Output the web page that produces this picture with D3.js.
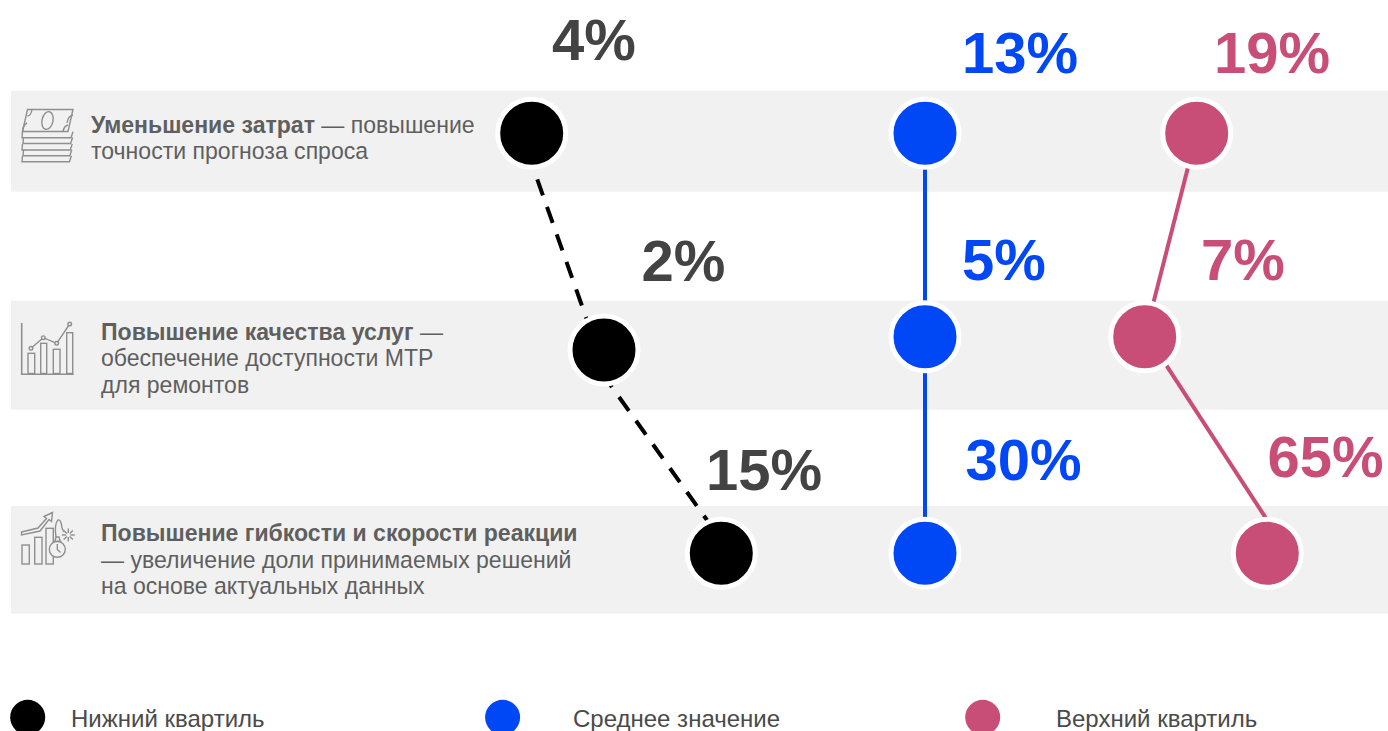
<!DOCTYPE html>
<html>
<head>
    <meta charset="utf-8">
    <title>quartiles</title>
    <script src="https://d3js.org/d3.v7.min.js"></script>
    <style>
        html, body { margin: 0; padding: 0; background: #fff; overflow: hidden; }
        text { font-family: "Liberation Sans", Arial, sans-serif; }
    </style>
</head>
<body>
<svg width="1388" height="731"></svg>
<script>
    // значения
    var lowerLabels = ["4%", "2%", "15%"],
        meanLabels = ["13%", "5%", "30%"],
        upperLabels = ["19%", "7%", "65%"];

    // the picture does not place dots by value, each row has its own spread,
    // so these are read off it as distance from the mean column
    var lowerPos = [-39.33, -32.1, -20.37],
        meanPos = [0, 0, 0],
        upperPos = [27.17, 21.97, 34.23];

    // row level of each dot, the middle row is not quite level in the source
    var lowerRow = [0, 1.032, 2],
        meanRow = [0, 0.969, 2],
        upperRow = [0, 0.969, 2];

    // connector ends differ a bit from the dot centres [from, to] for each gap
    var lowerLinkShift = [[-1.07, -0.64], [-1.85, 0.94]],
        meanLinkShift = [[0, 0], [0, 0]],
        upperLinkShift = [[0, 0], [0.31, 2.15]];

    var legendNames = ["Нижний квартиль", "Среднее значение", "Верхний квартиль"];

    var rowTexts = [
        [["Уменьшение затрат", " — повышение"], ["", "точности прогноза спроса"]],
        [["Повышение качества услуг", " —"], ["", "обеспечение доступности МТР"], ["", "для ремонтов"]],
        [["Повышение гибкости и скорости реакции", ""], ["", "— увеличение доли принимаемых решений"], ["", "на основе актуальных данных"]]
    ];

    var svg = d3.select("svg");

    var x = d3.scaleLinear().domain([-40, 40]).range([525, 1325]),
        y = d3.scaleLinear().domain([0, 2]).range([133.3, 553.3]);

    var series = [
        { pos: lowerPos, row: lowerRow, shift: lowerLinkShift, labels: lowerLabels, color: "#000000", text: "#434343", dash: "17 12.2",
          labelX: [552, 641.5, 706], labelY: [60, 280.5, 489.5], offsets: [-19.6, -28.5] },
        { pos: meanPos, row: meanRow, shift: meanLinkShift, labels: meanLabels, color: "#0047f6", text: "#0047f6", dash: null,
          labelX: [962, 962, 965.5], labelY: [73, 280, 479.5], offsets: [0, 0] },
        { pos: upperPos, row: upperRow, shift: upperLinkShift, labels: upperLabels, color: "#c84e78", text: "#c84e78", dash: null,
          labelX: [1214, 1201, 1267.5], labelY: [73, 279.5, 476.5], offsets: [0, 0] }
    ];

    // gray bands
    var bands = [[90.7, 191.7], [300.7, 409.7], [506, 613.7]];
    svg.selectAll("rect.band").data(bands).enter().append("rect")
        .attr("class", "band")
        .attr("x", 11)
        .attr("y", function (d) { return d[0]; })
        .attr("width", 1377)
        .attr("height", function (d) { return d[1] - d[0]; })
        .attr("fill", "#f1f1f1");

    // icons
    var icons = svg.append("g")
        .attr("fill", "none")
        .attr("stroke", "#8f8f8f")
        .attr("stroke-width", 1.4);

    // money stack
    icons.append("path").attr("d", "M27.5 109.5H73L68 131.5H22.5Z");
    icons.append("ellipse")
        .attr("cx", 47.5).attr("cy", 120.5).attr("rx", 5.5).attr("ry", 9)
        .attr("transform", "rotate(12 47.5 120.5)");
    icons.append("path").attr("d", "M27.5 116Q31 115.5 32 109.5M22.5 131.5Q23 125 27 123M73 115Q68 116 67 123M68 125Q64 126 63 131.5");
    [137.7, 143.5, 150, 155.7, 161.7].forEach(function (ly, i) {
        icons.append("path").attr("d", "M" + (22.5 + (i % 2)) + " " + (ly - 6) + "L" + (22 + (i % 2)) + " " + ly + "H" + (71 - i * 0.4) + "L" + (73 - i * 0.4) + " " + (ly - 6));
    });

    // chart icon
    icons.append("path").attr("stroke-width", 1.6).attr("d", "M21.7 323V374.3H73.7");
    [[28, 353.3, 6.7], [40.7, 343.3, 6], [53.3, 349.3, 6.7], [66.7, 332.7, 6]].forEach(function (b) {
        icons.append("rect").attr("x", b[0]).attr("y", b[1]).attr("width", b[2]).attr("height", 373.5 - b[1]);
    });
    icons.append("path").attr("d", "M31 348.3L43.3 337.7L56.7 343.3L69.7 324");
    [[31, 348.3], [43.3, 337.7], [56.7, 343.3], [69.7, 324]].forEach(function (p) {
        icons.append("circle").attr("cx", p[0]).attr("cy", p[1]).attr("r", 1.8).attr("fill", "#f1f1f1");
    });

    // speed icon
    [[22, 545], [34.7, 537.3], [46, 528.3]].forEach(function (b) {
        icons.append("rect").attr("x", b[0]).attr("y", b[1]).attr("width", 7.3).attr("height", 564 - b[1]);
    });
    icons.append("path").attr("d", "M21.5 532L38 528L46.5 518.5L44 516.5L52.5 512.5L51.5 521.5L49 519.5L40 531L21.5 535Z");
    icons.append("circle").attr("cx", 57.3).attr("cy", 549.3).attr("r", 8).attr("fill", "#f1f1f1");
    icons.append("path").attr("d", "M57.3 544V549.5L60.5 552.5M53 541.5H61.5M55 541L56 537H59L60 541");
    icons.append("path").attr("d", "M56 537Q54 524 58 520Q61 519 62 528L64 532");
    d3.range(8).forEach(function (i) {
        var a = i * Math.PI / 4;
        icons.append("line")
            .attr("x1", 68.3 + Math.cos(a) * 2).attr("y1", 535 + Math.sin(a) * 2)
            .attr("x2", 68.3 + Math.cos(a) * 6.5).attr("y2", 535 + Math.sin(a) * 6.5);
    });

    // row descriptions
    var rowX = [91, 101, 101],
        rowY = [[132.7, 159], [339.5, 366.3, 392.7], [541, 567.5, 593.7]];

    rowTexts.forEach(function (lines, r) {
        lines.forEach(function (line, i) {
            var t = svg.append("text")
                .attr("x", rowX[r])
                .attr("y", rowY[r][i])
                .attr("font-size", 23.05)
                .attr("fill", "#5f5f5f");
            t.append("tspan").attr("font-weight", "bold").text(line[0]);
            t.append("tspan").text(line[1]);
        });
    });

    var line = d3.line().x(function (d) { return x(d[0]); }).y(function (d) { return y(d[1]); });

    // connectors
    series.forEach(function (s) {
        d3.range(2).forEach(function (i) {
            svg.append("path")
                .attr("d", line([[s.pos[i] + s.shift[i][0], s.row[i]], [s.pos[i + 1] + s.shift[i][1], s.row[i + 1]]]))
                .attr("fill", "none")
                .attr("stroke", s.color)
                .attr("stroke-width", 4)
                .attr("stroke-dasharray", s.dash)
                .attr("stroke-dashoffset", s.offsets[i]);
        });
    });

    // dots and labels
    series.forEach(function (s) {
        svg.selectAll(null).data(s.pos).enter().append("circle")
            .attr("cx", function (d) { return x(d); })
            .attr("cy", function (d, i) { return y(s.row[i]); })
            .attr("r", 34)
            .attr("fill", s.color)
            .attr("stroke", "#fff")
            .attr("stroke-width", 5);

        svg.selectAll(null).data(s.labels).enter().append("text")
            .attr("x", function (d, i) { return s.labelX[i]; })
            .attr("y", function (d, i) { return s.labelY[i]; })
            .attr("font-size", 58)
            .attr("font-weight", "bold")
            .attr("fill", s.text)
            .text(function (d) { return d; });
    });

    // legend
    var legendX = [27.7, 502.6, 982.7],
        legendTextX = [71, 573, 1056];
    legendNames.forEach(function (name, i) {
        svg.append("circle")
            .attr("cx", legendX[i]).attr("cy", 717.3).attr("r", 17.5)
            .attr("fill", series[i].color);
        svg.append("text")
            .attr("x", legendTextX[i]).attr("y", 726.7)
            .attr("font-size", 24)
            .attr("fill", "#4a4a4a")
            .text(name);
    });
</script>
</body>
</html>
